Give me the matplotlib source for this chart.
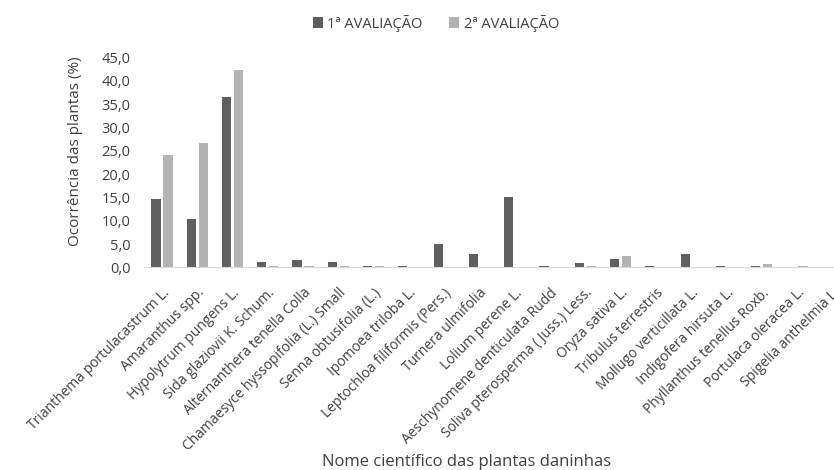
import matplotlib
matplotlib.use('Agg')
import matplotlib.pyplot as plt
import numpy as np

especies = [
    'Trianthema portulacastrum L.', 'Amaranthus spp.', 'Hypolytrum pungens L.',
    'Sida glaziovii K. Schum.', 'Alternanthera tenella Colla',
    'Chamaesyce hyssopifolia (L.) Small', 'Senna obtusifolia (L.)',
    'Ipomoea triloba L.', 'Leptochloa filiformis (Pers.)', 'Turnera ulmifolia',
    'Lolium perene L.', 'Aeschynomene denticulata Rudd',
    'Soliva pterosperma ( Juss.) Less.', 'Oryza sativa L.', 'Tribulus terrestris',
    'Mollugo verticillata L.', 'Indigofera hirsuta L.', 'Phyllanthus tenellus Roxb.',
    'Portulaca oleracea L.', 'Spigelia anthelmia L.',
]
aval1 = [14.7, 10.4, 36.5, 1.2, 1.6, 1.2, 0.4, 0.4, 5.0, 2.9,
         15.0, 0.2, 1.0, 1.9, 0.4, 2.9, 0.4, 0.4, 0.0, 0.0]
aval2 = [24.0, 26.6, 42.2, 0.4, 0.4, 0.4, 0.4, 0.0, 0.0, 0.0,
         0.0, 0.0, 0.4, 2.5, 0.0, 0.0, 0.0, 0.7, 0.4, 0.4]
yticks = np.arange(0, 46, 5)

plt.rcParams['font.family'] = ['Open Sans', 'DejaVu Sans']

fig = plt.figure(figsize=(8.34, 4.70), dpi=100)
ax = fig.add_axes([0.173, 0.431, 0.846, 0.447])

x = np.arange(len(especies))
w = 0.26
ax.bar(x - 0.17, aval1, w, color='#5f5f5f', label='1ª AVALIAÇÃO')
ax.bar(x + 0.17, aval2, w, color='#b3b3b3', label='2ª AVALIAÇÃO')

ax.set_xlim(-0.5, len(especies) - 0.5)
ax.set_ylim(0, 45)
ax.set_yticks(yticks)
ax.set_yticklabels([f'{v:.1f}'.replace('.', ',') for v in yticks], fontsize=10.5, color='#404040')
ax.set_xticks(x)
ax.set_xticklabels(especies, rotation=45, ha='right', rotation_mode='anchor', fontsize=10, color='#404040')
ax.tick_params(axis='both', length=0)
ax.tick_params(axis='y', pad=10)
ax.tick_params(axis='x', pad=13)

for s in ['top', 'right', 'left']:
    ax.spines[s].set_visible(False)
ax.spines['bottom'].set_color('#d9d9d9')

ax.set_ylabel('Ocorrência das plantas (%)', fontsize=11, color='#404040')
ax.yaxis.set_label_coords((83 - 144) / 705.6, (470 - 151 - 202.5) / 210.1)
fig.text(467 / 834, 1 - 462 / 470, 'Nome científico das plantas daninhas',
         ha='center', va='center', fontsize=12, color='#404040')

fig.legend(loc='center', bbox_to_anchor=(436 / 834, 1 - 23 / 470), ncol=2, frameon=False,
           fontsize=10.5, handlelength=0.7, handleheight=0.7, columnspacing=1.8,
           handletextpad=0.3, labelcolor='#404040')

fig.savefig('out.png', dpi=100)
